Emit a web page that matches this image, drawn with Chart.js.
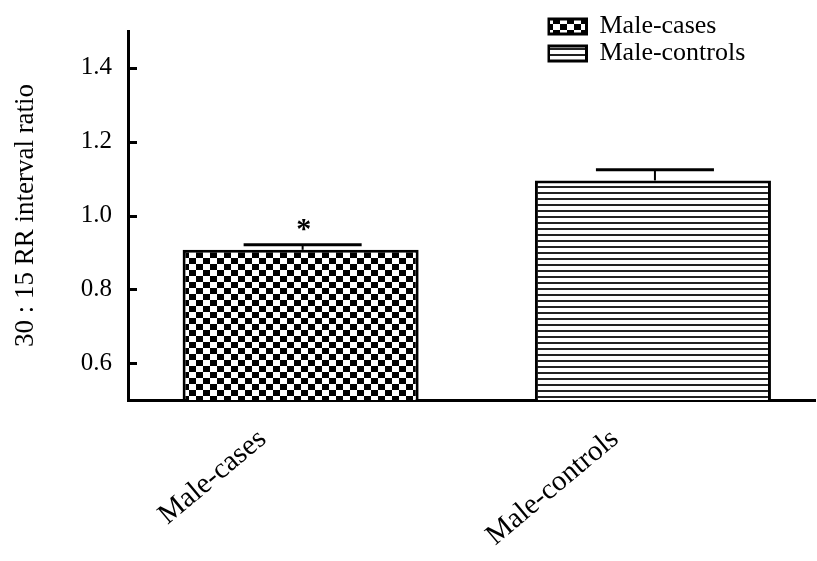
<!DOCTYPE html>
<html>
<head>
<meta charset="utf-8">
<script src="https://cdn.jsdelivr.net/npm/chart.js@4"></script>
<style>
  html, body { margin: 0; padding: 0; background: #fff; }
  canvas { display: block; }
</style>
</head>
<body>
<canvas id="c" width="817" height="561"></canvas>
<script>
// ---- data ----
const categories = ['Male-cases', 'Male-controls'];
const meanValues = [0.907, 1.095];
const semValues = [0.014, 0.029];
const significance = ['*', ''];
const yTickValues = [0.6, 0.8, 1.0, 1.2, 1.4];
const yTitle = '30 : 15 RR interval ratio';

const FONT = "'Liberation Serif', 'Times New Roman', serif";

function checkerPattern() {
  const c = document.createElement('canvas');
  c.width = 14; c.height = 12;
  const g = c.getContext('2d');
  g.fillStyle = '#fff'; g.fillRect(0, 0, 14, 12);
  g.fillStyle = '#000';
  g.fillRect(0, 0, 7, 6);
  g.fillRect(7, 6, 7, 6);
  return g.createPattern(c, 'repeat');
}
function stripePattern() {
  const c = document.createElement('canvas');
  c.width = 8; c.height = 6;
  const g = c.getContext('2d');
  g.fillStyle = '#fff'; g.fillRect(0, 0, 8, 6);
  g.fillStyle = '#222';
  g.fillRect(0, 0, 8, 2);
  return g.createPattern(c, 'repeat');
}
const fills = [checkerPattern(), stripePattern()];

const datasets = categories.map((name, i) => ({
  label: name,
  data: [{ x: i, y: meanValues[i] }],
  sem: semValues[i],
  mark: significance[i],
  backgroundColor: fills[i],
  borderColor: '#000',
  borderWidth: 3,
  borderSkipped: 'bottom'
}));

const errorBarPlugin = {
  id: 'errorBars',
  afterDatasetsDraw(chart) {
    const ctx = chart.ctx;
    const ys = chart.scales.y;
    chart.data.datasets.forEach((ds, di) => {
      const meta = chart.getDatasetMeta(di);
      meta.data.forEach((bar, j) => {
        const v = ds.data[j].y;
        const top = ys.getPixelForValue(v + ds.sem);
        const half = bar.width / 4;
        ctx.save();
        ctx.strokeStyle = '#000';
        ctx.lineWidth = 2;
        ctx.beginPath();
        ctx.moveTo(bar.x + 2, bar.y);
        ctx.lineTo(bar.x + 2, top);
        ctx.stroke();
        ctx.lineWidth = 3;
        ctx.beginPath();
        ctx.moveTo(bar.x + 2 - half, top);
        ctx.lineTo(bar.x + 2 + half, top);
        ctx.stroke();
        if (ds.mark) {
          ctx.fillStyle = '#000';
          ctx.font = 'bold 30px ' + FONT;
          ctx.textAlign = 'center';
          ctx.textBaseline = 'alphabetic';
          ctx.fillText(ds.mark, bar.x + 3, top - 7);
        }
        ctx.restore();
      });
    });
  }
};

const innerTicksPlugin = {
  id: 'innerTicks',
  afterDraw(chart) {
    const ctx = chart.ctx;
    const ys = chart.scales.y;
    const left = chart.chartArea.left;
    ctx.save();
    ctx.strokeStyle = '#000';
    ctx.lineWidth = 3;
    ys.ticks.forEach(t => {
      const y = Math.round(ys.getPixelForValue(t.value)) + 0.5;
      ctx.beginPath();
      ctx.moveTo(left, y);
      ctx.lineTo(left + 9, y);
      ctx.stroke();
    });
    ctx.restore();
  }
};

const legendPlacePlugin = {
  id: 'legendPlace',
  beforeDraw(chart) {
    const lg = chart.legend;
    if (!lg) return;
    lg.left = 547.5;
    lg.top = 12.5;
    lg.right = 817;
    lg.bottom = 120;
    lg.width = lg.right - lg.left;
    lg.height = lg.bottom - lg.top;
  }
};

new Chart(document.getElementById('c'), {
  type: 'bar',
  data: { datasets },
  options: {
    responsive: false,
    animation: false,
    events: [],
    grouped: false,
    categoryPercentage: 1,
    barPercentage: 0.67,
    layout: { padding: { top: 27, right: 2, left: 0, bottom: 0 } },
    plugins: {
      tooltip: { enabled: false },
      legend: {
        position: 'chartArea',
        align: 'start',
        labels: {
          color: '#000',
          font: { family: FONT, size: 26 },
          boxWidth: 38,
          boxHeight: 15,
          padding: 1
        }
      }
    },
    scales: {
      x: {
        type: 'linear',
        offset: false,
        min: -0.49,
        max: 1.46,
        grid: { display: false, offset: false },
        border: { display: true, color: '#000', width: 3 },
        afterBuildTicks(scale) {
          scale.ticks = categories.map((_, i) => ({ value: i }));
        },
        afterFit(scale) { scale.height = 161; },
        ticks: {
          color: '#000',
          font: { family: FONT, size: 29 },
          minRotation: 40,
          maxRotation: 40,
          padding: 14,
          labelOffset: -38,
          autoSkip: false,
          callback: (v) => categories[v] ?? ''
        }
      },
      y: {
        min: 0.5,
        max: 1.5,
        grid: { display: false, drawTicks: false },
        border: { display: true, color: '#000', width: 3 },
        afterBuildTicks(scale) {
          scale.ticks = yTickValues.map(v => ({ value: v }));
        },
        afterFit(scale) { scale.width = 128; },
        ticks: {
          color: '#000',
          font: { family: FONT, size: 25 },
          padding: 16,
          callback: (v) => Number(v).toFixed(1)
        },
        title: {
          display: true,
          text: yTitle,
          color: '#000',
          font: { family: FONT, size: 27 },
          padding: { top: 10, bottom: 4 }
        }
      }
    }
  },
  plugins: [errorBarPlugin, innerTicksPlugin, legendPlacePlugin]
});
</script>
</body>
</html>
